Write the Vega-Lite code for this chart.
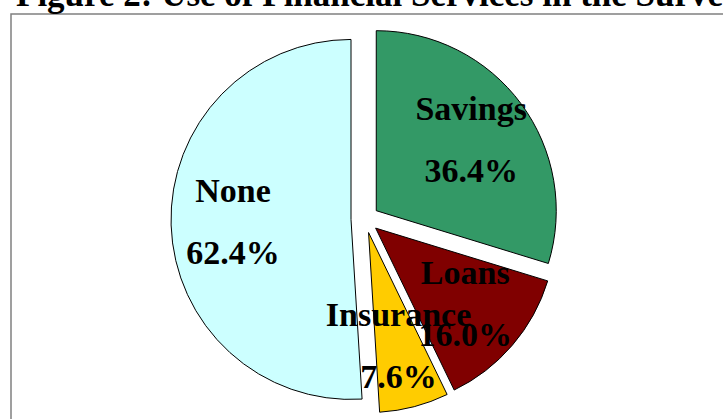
{
  "$schema": "https://vega.github.io/schema/vega-lite/v6.json",
  "width": 714,
  "height": 408,
  "autosize": "none",
  "padding": {"left": 11, "top": 14, "right": 0, "bottom": 0},
  "background": "white",
  "view": {"stroke": "#808080", "strokeWidth": 1.5},
  "title": {
    "text": "Figure 2: Use of Financial Services in the Survey",
    "font": "Liberation Serif",
    "fontSize": 35,
    "fontWeight": "bold",
    "color": "black",
    "anchor": "start",
    "baseline": "alphabetic",
    "offset": -27,
    "dx": 5
  },
  "data": {
    "values": [
      {"service": "Savings", "share": 0.364, "k": 1},
      {"service": "Loans", "share": 0.16, "k": 2},
      {"service": "Insurance", "share": 0.076, "k": 3},
      {"service": "None", "share": 0.624, "k": 4}
    ]
  },
  "encoding": {
    "theta": {"field": "share", "type": "quantitative", "stack": true},
    "order": {"field": "k", "type": "ordinal"},
    "detail": {"field": "service", "type": "nominal"}
  },
  "layer": [
    {
      "mark": {
        "type": "arc",
        "radius": 180,
        "stroke": "black",
        "strokeWidth": 1,
        "xOffset": {"expr": "-3 + 14*sin(scale('theta', (datum.share_start + datum.share_end)/2))"},
        "yOffset": {"expr": "1 - 14*cos(scale('theta', (datum.share_start + datum.share_end)/2))"}
      },
      "encoding": {
        "color": {
          "field": "service",
          "type": "nominal",
          "scale": {
            "domain": ["Savings", "Loans", "Insurance", "None"],
            "range": ["#339966", "#800000", "#FFCC00", "#CCFFFF"]
          },
          "legend": null
        }
      }
    },
    {
      "mark": {
        "type": "text",
        "radius": 118,
        "dy": -31,
        "font": "Liberation Serif",
        "fontSize": 34,
        "fontWeight": "bold",
        "color": "black",
        "xOffset": {"expr": "-3 + 14*sin(scale('theta', (datum.share_start + datum.share_end)/2))"},
        "yOffset": {"expr": "1 - 14*cos(scale('theta', (datum.share_start + datum.share_end)/2))"}
      },
      "encoding": {"text": {"field": "service", "type": "nominal"}}
    },
    {
      "mark": {
        "type": "text",
        "radius": 118,
        "dy": 31,
        "font": "Liberation Serif",
        "fontSize": 34,
        "fontWeight": "bold",
        "color": "black",
        "xOffset": {"expr": "-3 + 14*sin(scale('theta', (datum.share_start + datum.share_end)/2))"},
        "yOffset": {"expr": "1 - 14*cos(scale('theta', (datum.share_start + datum.share_end)/2))"}
      },
      "encoding": {"text": {"field": "share", "type": "quantitative", "format": ".1%"}}
    }
  ]
}
